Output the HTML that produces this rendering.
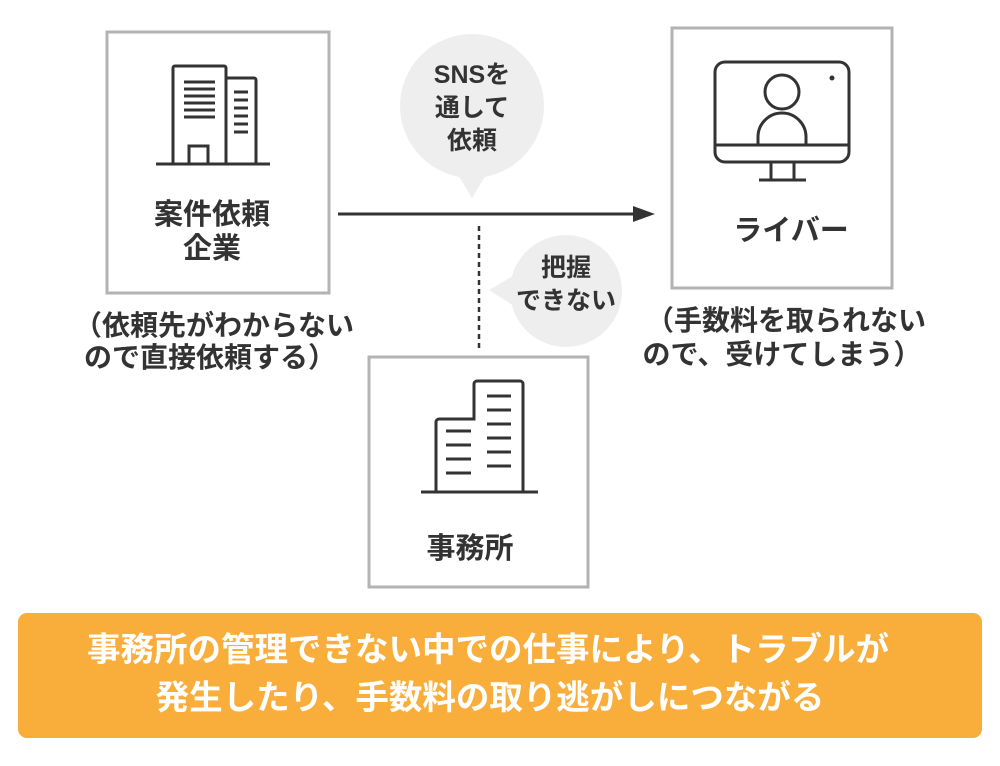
<!DOCTYPE html>
<html><head><meta charset="utf-8"><style>
body{margin:0;background:#fff;}
svg text{font-family:"Liberation Sans","Noto Sans CJK JP",sans-serif;fill:#333;}
</style></head><body>
<svg width="1000" height="761" viewBox="0 0 1000 761" xmlns="http://www.w3.org/2000/svg">
<rect x="107" y="32" width="222" height="261" fill="none" stroke="#b3b3b3" stroke-width="3"/>
<rect x="672" y="28" width="220" height="260" fill="none" stroke="#b3b3b3" stroke-width="3"/>
<rect x="369" y="357" width="219" height="230" fill="none" stroke="#b3b3b3" stroke-width="3"/>
<g fill="none" stroke="#333" stroke-width="3">
<path d="M156 164H270"/>
<path d="M173 164V68a2 2 0 0 1 2-2H224a2 2 0 0 1 2 2V164"/>
<path d="M226 78H254a2 2 0 0 1 2 2V164"/>
<path d="M189 164V146H208V164"/>
<path d="M184 82H215M184 89H215M184 96H215M184 103H215M184 110H215M184 117H215"/>
<path d="M234 92H248M234 100H248M234 108H248M234 116H248M234 124H248M234 132H248"/>
<path d="M421 492H538"/>
<path d="M436 492V422a3 3 0 0 1 3-3H474V384a3 3 0 0 1 3-3H520a3 3 0 0 1 3 3V492"/>
<path d="M446 431H471M446 445H471M446 459H471M446 473H471"/>
<path d="M487 396H511M487 410H511M487 424H511M487 438H511M487 452H511M487 466H511"/>
<rect x="715" y="62" width="134" height="100" rx="10"/>
<path d="M715 145H849"/>
<path d="M771 162V179M794 162V179M759 180H806"/>
<circle cx="782" cy="92" r="17"/>
<path d="M758 145V137a24 24 0 0 1 48 0V145"/>
</g>
<circle cx="832" cy="78" r="2.5" fill="#333"/>
<line x1="338" y1="214" x2="640" y2="214" stroke="#333" stroke-width="3"/>
<path d="M655 214L633 206L633 222Z" fill="#333"/>
<line x1="479" y1="226" x2="479" y2="350" stroke="#333" stroke-width="2.5" stroke-dasharray="5,4"/>
<circle cx="472" cy="106" r="72" fill="#eeeeee"/>
<path d="M452 165L472 198L492 165Z" fill="#eeeeee"/>
<circle cx="566" cy="291" r="56" fill="#eeeeee"/>
<path d="M520 272L489 290L520 310Z" fill="#eeeeee"/>
<g font-size="25" font-weight="bold" text-anchor="middle">
<text x="472" y="83">SNSを</text>
<text x="472" y="116">通して</text>
<text x="472" y="149">依頼</text>
<text x="566" y="276">把握</text>
<text x="566" y="309">できない</text>
</g>
<g font-size="29" text-anchor="middle" font-weight="bold">
<text x="212" y="224">案件依頼</text>
<text x="212" y="258">企業</text>
<text x="791" y="240">ライバー</text>
<text x="470" y="558">事務所</text>
</g>
<g font-size="28" text-anchor="middle" font-weight="bold">
<text x="214" y="335">（依頼先がわからない</text>
<text x="210" y="367">ので直接依頼する）</text>
<text x="786" y="330">（手数料を取られない</text>
<text x="782" y="364">ので、受けてしまう）</text>
</g>
<rect x="18" y="613" width="964" height="125" rx="9" fill="#f9ae3c"/>
<g font-size="33.5" font-weight="bold" text-anchor="middle">
<text x="488" y="661" style="fill:#fff">事務所の管理できない中での仕事により、トラブルが</text>
<text x="490" y="709" style="fill:#fff">発生したり、手数料の取り逃がしにつながる</text>
</g>
</svg>
</body></html>
